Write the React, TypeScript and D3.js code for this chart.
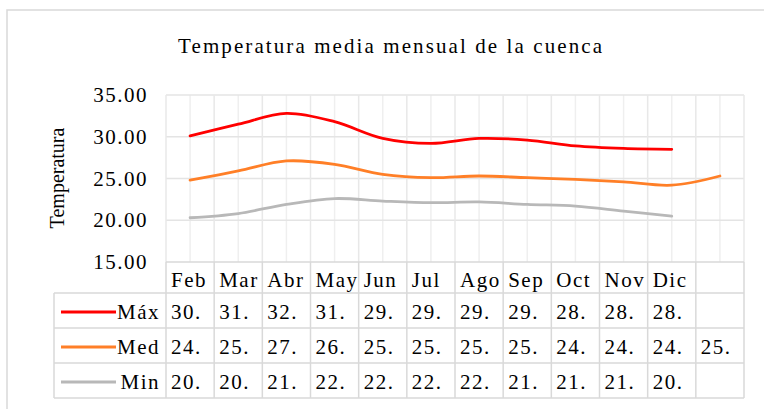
import * as d3 from "d3"

const months = ["Feb", "Mar", "Abr", "May", "Jun", "Jul", "Ago", "Sep", "Oct", "Nov", "Dic", ""]
const maxTemp = [30.1, 31.5, 32.8, 31.8, 29.8, 29.2, 29.8, 29.6, 28.9, 28.6, 28.5]
const medTemp = [24.8, 25.9, 27.1, 26.7, 25.5, 25.1, 25.3, 25.1, 24.9, 24.6, 24.2, 25.3]
const minTemp = [20.3, 20.8, 21.9, 22.6, 22.3, 22.1, 22.2, 21.9, 21.7, 21.1, 20.5]
const yTicks = [15, 20, 25, 30, 35]

const series = [
  { name: "Máx", color: "#ff0000", values: maxTemp },
  { name: "Med", color: "#ff7f27", values: medTemp },
  { name: "Min", color: "#b8b8b8", values: minTemp },
]

const W = 764
const H = 409
const FONT = "'Liberation Serif', 'Times New Roman', serif"

export default function App() {
  const plot = { left: 166, right: 744, top: 95, bottom: 262 }
  const rowH = 35
  const headerBottom = 293
  const legendLeft = 54

  const x = d3.scaleBand<string>()
    .domain(months.map((m, i) => m + "_" + i))
    .range([plot.left, plot.right])
  const key = (i: number) => months[i] + "_" + i
  const cx = (i: number) => (x(key(i)) ?? 0) + x.bandwidth() / 2

  const y = d3.scaleLinear().domain([15, 35]).range([plot.bottom, plot.top])

  const line = d3.line<number>()
    .x((_d, i) => cx(i))
    .y(d => y(d))
    .curve(d3.curveCatmullRom.alpha(0.5))

  const tableBottom = headerBottom + rowH * series.length
  const fmt = d3.format(".2f")

  return (
    <svg width={W} height={H} style={{ position: "absolute", left: 0, top: 0, background: "#fff" }}>
      {/* chart border */}
      <rect x={7} y={10} width={820} height={460} fill="#fff" stroke="#d9d9d9" strokeWidth={1.5} />

      <text x={390} y={53} textAnchor="middle" fontFamily={FONT} fontSize={21} fill="#000" textLength={424} lengthAdjust="spacing">
        Temperatura media mensual de la cuenca
      </text>

      {/* vertical grid: half-category lines */}
      {months.map((_m, i) => (
        <line key={"mid" + i} x1={cx(i)} x2={cx(i)} y1={plot.top} y2={plot.bottom} stroke="#efefef" strokeWidth={1.5} />
      ))}
      {/* horizontal grid */}
      {yTicks.slice(1).map(t => (
        <line key={"h" + t} x1={plot.left} x2={plot.right} y1={y(t)} y2={y(t)} stroke="#e4e4e4" strokeWidth={1.5} />
      ))}
      {/* column boundaries through plot */}
      {d3.range(months.length + 1).map(i => {
        const xx = i < months.length ? (x(key(i)) ?? 0) : plot.right
        return <line key={"vb" + i} x1={xx} x2={xx} y1={plot.top} y2={plot.bottom} stroke="#e8e8e8" strokeWidth={1.5} />
      })}

      {/* y tick labels */}
      {yTicks.map(t => (
        <text key={"yt" + t} x={148} y={y(t) + 7} textAnchor="end" fontFamily={FONT} fontSize={21} fill="#000" letterSpacing={1.5}>
          {fmt(t)}
        </text>
      ))}

      <text transform={`translate(64,178) rotate(-90)`} textAnchor="middle" fontFamily={FONT} fontSize={20} fill="#000">
        Temperatura
      </text>

      {/* lines */}
      {series.map(s => (
        <path key={s.name} d={line(s.values) ?? ""} fill="none" stroke={s.color} strokeWidth={2.8} strokeLinecap="round" />
      ))}

      {/* data table */}
      <g stroke="#d9d9d9" strokeWidth={1.5}>
        <line x1={plot.left} x2={plot.right} y1={plot.bottom} y2={plot.bottom} />
        {d3.range(series.length + 1).map(r => (
          <line key={"tr" + r} x1={legendLeft} x2={plot.right} y1={headerBottom + r * rowH} y2={headerBottom + r * rowH} />
        ))}
        <line x1={legendLeft} x2={legendLeft} y1={headerBottom} y2={tableBottom} />
        {d3.range(months.length + 1).map(i => {
          const xx = i < months.length ? (x(key(i)) ?? 0) : plot.right
          return <line key={"tv" + i} x1={xx} x2={xx} y1={plot.bottom} y2={tableBottom} />
        })}
      </g>

      {months.map((m, i) => (
        <text key={"m" + i} x={(x(key(i)) ?? 0) + 5} y={287} fontFamily={FONT} fontSize={21} fill="#000" letterSpacing={1.5}>
          {m}
        </text>
      ))}

      {series.map((s, r) => {
        const base = headerBottom + r * rowH + 26
        return (
          <g key={"row" + s.name}>
            <line x1={61} x2={116} y1={base - 7} y2={base - 7} stroke={s.color} strokeWidth={3} />
            <text x={160} y={base} textAnchor="end" fontFamily={FONT} fontSize={21} fill="#000" letterSpacing={1.5}>
              {s.name}
            </text>
            {s.values.map((v, i) => (
              <text key={i} x={(x(key(i)) ?? 0) + 5} y={base} fontFamily={FONT} fontSize={21} fill="#000" letterSpacing={1.5}>
                {Math.floor(v) + "."}
              </text>
            ))}
          </g>
        )
      })}
    </svg>
  )
}
